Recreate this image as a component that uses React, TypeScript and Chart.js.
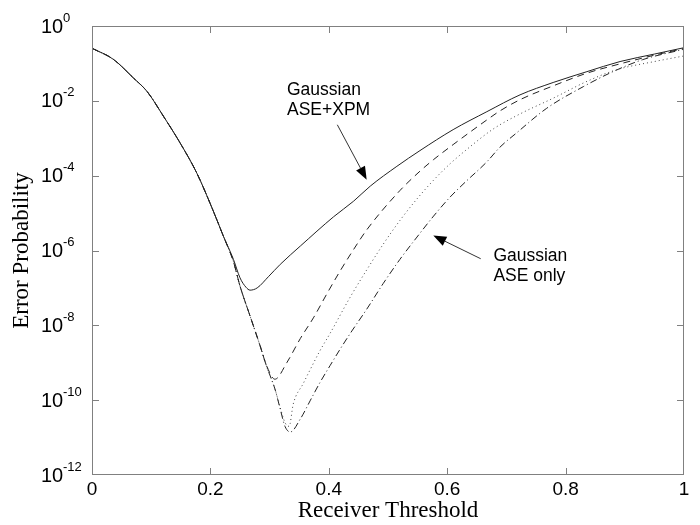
import React, { useEffect, useRef } from "react";
import { Chart, registerables } from "chart.js";
Chart.register(...registerables);

// Axis ticks
const xTickValues = [0, 0.2, 0.4, 0.6, 0.8, 1];
const yTickExponents = [0, -2, -4, -6, -8, -10, -12];

// Gaussian ASE+XPM (solid)
const solidX = [0, 0.036, 0.07, 0.093, 0.121, 0.149, 0.177, 0.205, 0.222, 0.239, 0.25, 0.26, 0.267, 0.279, 0.298, 0.318, 0.352, 0.408, 0.442, 0.47, 0.515, 0.554, 0.61, 0.667, 0.723, 0.779, 0.836, 0.892, 0.95, 1.0];
const solidLog10 = [-0.595, -0.89, -1.39, -1.75, -2.42, -3.13, -3.93, -4.95, -5.62, -6.24, -6.73, -6.98, -7.06, -7.0, -6.7, -6.37, -5.88, -5.1, -4.68, -4.28, -3.75, -3.33, -2.77, -2.29, -1.84, -1.51, -1.22, -0.95, -0.75, -0.58];

// dashed
const dashedX = [0, 0.036, 0.07, 0.093, 0.121, 0.149, 0.177, 0.205, 0.222, 0.239, 0.25, 0.267, 0.284, 0.295, 0.309, 0.329, 0.352, 0.374, 0.397, 0.419, 0.442, 0.464, 0.52, 0.554, 0.577, 0.61, 0.667, 0.689, 0.723, 0.779, 0.836, 0.89, 0.95, 1.0];
const dashedLog10 = [-0.595, -0.89, -1.39, -1.75, -2.42, -3.13, -3.93, -4.95, -5.62, -6.3, -6.95, -7.75, -8.55, -9.08, -9.44, -9.0, -8.35, -7.8, -7.15, -6.55, -5.97, -5.45, -4.4, -3.88, -3.57, -3.17, -2.51, -2.27, -1.97, -1.6, -1.26, -1.02, -0.78, -0.6];

// dotted
const dottedX = [0, 0.036, 0.07, 0.093, 0.121, 0.149, 0.177, 0.205, 0.222, 0.239, 0.25, 0.267, 0.284, 0.295, 0.309, 0.318, 0.326, 0.333, 0.34, 0.357, 0.369, 0.385, 0.402, 0.436, 0.464, 0.492, 0.52, 0.549, 0.577, 0.605, 0.633, 0.678, 0.723, 0.779, 0.836, 0.886, 0.95, 1.0];
const dottedLog10 = [-0.595, -0.89, -1.39, -1.75, -2.42, -3.13, -3.93, -4.95, -5.62, -6.3, -6.95, -7.75, -8.55, -9.1, -9.7, -10.2, -10.6, -10.7, -10.1, -9.55, -9.17, -8.68, -8.22, -7.25, -6.52, -5.83, -5.2, -4.62, -4.12, -3.68, -3.3, -2.75, -2.35, -1.93, -1.48, -1.17, -0.95, -0.8];

// dash-dot
const dashDotX = [0, 0.036, 0.07, 0.093, 0.121, 0.149, 0.177, 0.205, 0.222, 0.239, 0.25, 0.267, 0.284, 0.295, 0.309, 0.318, 0.326, 0.335, 0.352, 0.369, 0.385, 0.402, 0.419, 0.439, 0.464, 0.492, 0.52, 0.549, 0.577, 0.605, 0.63, 0.667, 0.689, 0.717, 0.768, 0.83, 0.88, 0.93, 1.0];
const dashDotLog10 = [-0.595, -0.89, -1.39, -1.75, -2.42, -3.13, -3.93, -4.95, -5.62, -6.3, -6.95, -7.75, -8.55, -9.1, -9.7, -10.24, -10.7, -10.85, -10.5, -10.0, -9.53, -9.08, -8.64, -8.15, -7.57, -6.88, -6.24, -5.64, -5.08, -4.57, -4.18, -3.63, -3.24, -2.86, -2.2, -1.62, -1.22, -0.9, -0.62];

// annotations (data coordinates: x, log10 y)
const note1Lines = ["Gaussian", "ASE+XPM"];
const note1Pos = [0.3294, -1.84];
const arrow1From = [0.4144, -2.64];
const arrow1To = [0.464, -4.107];
const note2Lines = ["Gaussian", "ASE only"];
const note2Pos = [0.678, -6.29];
const arrow2From = [0.6566, -6.22];
const arrow2To = [0.5765, -5.6];

const toPoints = (xs: number[], ls: number[]) => xs.map((x, i) => ({ x, y: Math.pow(10, ls[i]) }));

const SANS = "'Liberation Sans', Arial, Helvetica, sans-serif";
const SERIF = "'Liberation Serif', 'Times New Roman', serif";

const framePlugin = {
  id: "frameAndLabels",
  afterDraw(chart: any) {
    const { ctx, chartArea, scales } = chart;
    const { left, right, top, bottom } = chartArea;
    const xs = scales.x;
    const ys = scales.y;
    ctx.save();
    ctx.setLineDash([]);
    ctx.fillStyle = "#808080";
    const L = Math.round(left);
    const R = Math.round(right) - 1;
    const T = Math.round(top);
    const B = Math.round(bottom) - 1;
    // frame as 1px rectangles
    ctx.fillRect(L, T, R - L + 1, 1);
    ctx.fillRect(L, B, R - L + 1, 1);
    ctx.fillRect(L, T, 1, B - T + 1);
    ctx.fillRect(R, T, 1, B - T + 1);
    const tl = 6;
    for (const v of xTickValues) {
      if (v === 0 || v === 1) continue;
      const px = Math.round(xs.getPixelForValue(v));
      ctx.fillRect(px, B - tl, 1, tl);
      ctx.fillRect(px, T + 1, 1, tl);
    }
    for (const e of yTickExponents) {
      if (e === 0 || e === -12) continue;
      const py = Math.round(ys.getPixelForValue(Math.pow(10, e)));
      ctx.fillRect(L + 1, py, tl, 1);
      ctx.fillRect(R - tl, py, tl, 1);
    }

    // y tick labels with superscript exponent
    ctx.fillStyle = "#000";
    ctx.textAlign = "left";
    ctx.textBaseline = "middle";
    for (const e of yTickExponents) {
      const py = ys.getPixelForValue(Math.pow(10, e));
      ctx.font = `20px ${SANS}`;
      ctx.fillText("10", left - 51, py + 1);
      ctx.font = `13px ${SANS}`;
      ctx.fillText(String(e), left - 29, py - 8);
    }

    // annotations
    const px = (p: number[]) => [xs.getPixelForValue(p[0]), ys.getPixelForValue(Math.pow(10, p[1]))];
    ctx.font = `17.5px ${SANS}`;
    ctx.textBaseline = "alphabetic";
    const drawNote = (lines: string[], pos: number[]) => {
      const [tx, ty] = px(pos);
      lines.forEach((s, i) => ctx.fillText(s, tx, ty + i * 20));
    };
    drawNote(note1Lines, note1Pos);
    drawNote(note2Lines, note2Pos);
    const drawArrow = (from: number[], to: number[]) => {
      const [x0, y0] = px(from);
      const [x1, y1] = px(to);
      const ang = Math.atan2(y1 - y0, x1 - x0);
      const hl = 13;
      const hw = 5;
      const bx = x1 - hl * Math.cos(ang);
      const by = y1 - hl * Math.sin(ang);
      ctx.strokeStyle = "#333";
      ctx.lineWidth = 1;
      ctx.beginPath();
      ctx.moveTo(x0, y0);
      ctx.lineTo(bx, by);
      ctx.stroke();
      ctx.fillStyle = "#000";
      ctx.beginPath();
      ctx.moveTo(x1, y1);
      ctx.lineTo(bx + hw * Math.sin(ang), by - hw * Math.cos(ang));
      ctx.lineTo(bx - hw * Math.sin(ang), by + hw * Math.cos(ang));
      ctx.closePath();
      ctx.fill();
    };
    drawArrow(arrow1From, arrow1To);
    drawArrow(arrow2From, arrow2To);
    ctx.restore();
  },
};

export default function App() {
  const ref = useRef<HTMLCanvasElement | null>(null);
  useEffect(() => {
    if (!ref.current) return;
    const lineColor = "#222";
    const common = { borderColor: lineColor, borderWidth: 1, pointRadius: 0, fill: false, cubicInterpolationMode: "monotone" as const };
    const chart = new Chart(ref.current, {
      type: "line",
      data: {
        datasets: [
          { ...common, label: "Gaussian ASE+XPM", data: toPoints(solidX, solidLog10) },
          { ...common, label: "dashed", data: toPoints(dashedX, dashedLog10), borderDash: [7, 5] },
          { ...common, label: "dotted", data: toPoints(dottedX, dottedLog10), borderDash: [1, 3], borderColor: "#444" },
          { ...common, label: "Gaussian ASE only", data: toPoints(dashDotX, dashDotLog10), borderDash: [7, 3, 1, 3] },
        ],
      },
      options: {
        animation: false,
        responsive: true,
        maintainAspectRatio: false,
        layout: { padding: { left: 0, right: 16, top: 26, bottom: 0 } },
        plugins: { legend: { display: false }, tooltip: { enabled: false } },
        scales: {
          x: {
            type: "linear",
            min: 0,
            max: 1,
            afterFit: (s: any) => { s.height = 50; },
            afterBuildTicks: (s: any) => { s.ticks = xTickValues.map((v) => ({ value: v })); },
            grid: { display: false },
            border: { display: false },
            ticks: {
              color: "#000",
              font: { family: SANS, size: 19 },
              padding: -5,
              maxRotation: 0,
              callback: (v: any) => String(v),
            },
            title: {
              display: true,
              text: "Receiver Threshold",
              color: "#000",
              font: { family: SERIF, size: 23 },
              padding: 0,
            },
          },
          y: {
            type: "logarithmic",
            min: 1e-12,
            max: 1,
            afterFit: (s: any) => { s.width = 92; },
            grid: { display: false },
            border: { display: false },
            ticks: { display: false },
            title: {
              display: true,
              text: "Error Probability",
              color: "#000",
              font: { family: SERIF, size: 23 },
              padding: 8,
            },
          },
        },
      },
      plugins: [framePlugin],
    });
    return () => chart.destroy();
  }, []);
  return (
    <div style={{ position: "fixed", left: 0, top: 0, width: 700, height: 525, background: "#fff" }}>
      <canvas ref={ref} />
    </div>
  );
}
